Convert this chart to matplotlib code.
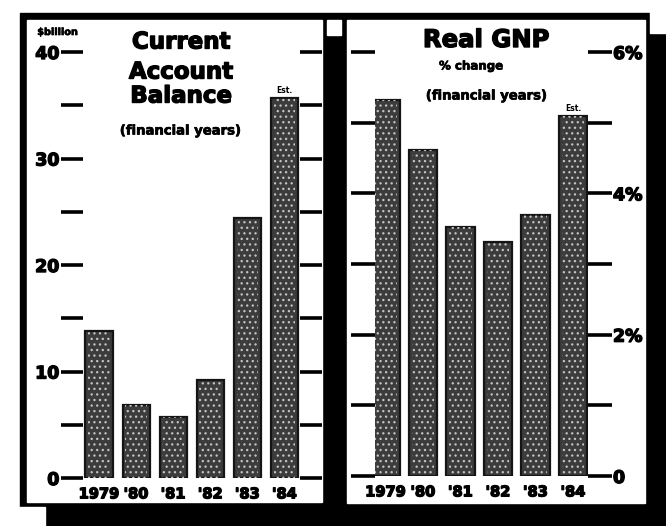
import matplotlib.pyplot as plt
import matplotlib.patheffects as pe
from matplotlib.patches import Rectangle

# Japan, financial years
years = ['1979', "'80", "'81", "'82", "'83", "'84"]
current_account = [13.8, 6.9, 5.7, 9.2, 24.4, 35.7]   # $ billion
real_gnp = [5.32, 4.61, 3.52, 3.31, 3.69, 5.1]       # % change

left_ticks = [0, 5, 10, 15, 20, 25, 30, 35, 40]
left_labels = ['0', '', '10', '', '20', '', '30', '', '40']
right_ticks = [0, 1, 2, 3, 4, 5, 6]
right_labels = ['0', '', '2%', '', '4%', '', '6%']

plt.rcParams['font.family'] = 'DejaVu Sans'
plt.rcParams['font.weight'] = 'bold'
plt.rcParams['hatch.linewidth'] = 0.9

W, H = 666, 526
fig = plt.figure(figsize=(W / 100, H / 100), dpi=100)
fig.patch.set_facecolor('white')

heavy = [pe.withStroke(linewidth=1.0, foreground='black')]
light = [pe.withStroke(linewidth=0.5, foreground='black')]

# background in pixel coords: black scan frame with two white panels
bg = fig.add_axes([0, 0, 1, 1], zorder=0)
bg.set_xlim(0, W)
bg.set_ylim(H, 0)
bg.axis('off')
bg.add_patch(Rectangle((20, 13), 646, 513, color='black'))
bg.add_patch(Rectangle((0, 507), 45, 19, color='white'))
bg.add_patch(Rectangle((650, 0), 16, 33, color='white'))
bg.add_patch(Rectangle((27, 20), 295, 482, color='white'))
bg.add_patch(Rectangle((347, 20), 298, 483, color='white'))
bg.add_patch(Rectangle((327, 20), 14, 15, color='white'))


def px_axes(x0, x1, y0, y1):
    # y0 = bottom pixel (from top), y1 = top pixel
    return fig.add_axes([x0 / W, (H - y0) / H, (x1 - x0) / W, (y0 - y1) / H], zorder=2)


def draw_bars(ax, vals, width):
    x = range(len(vals))
    ax.bar(x, vals, width=width, color='#3c3c3c', edgecolor='#151515', linewidth=1.6, zorder=2)
    ax.bar(x, vals, width=width * 0.8, fill=False, hatch='...', edgecolor='#c4c4c4', linewidth=0, zorder=3)


def style(ax):
    ax.set_facecolor('none')
    for s in ax.spines.values():
        s.set_visible(False)
    ax.tick_params(axis='x', length=0, pad=6, labelsize=10.5)
    ax.tick_params(axis='y', which='both', direction='out', width=2.6, labelsize=12.5, pad=1)


def thicken(ax):
    for lbl in ax.get_xticklabels() + ax.yaxis.get_ticklabels():
        lbl.set_path_effects(heavy)


# left panel: current account balance
ax1 = px_axes(83, 300, 478, 52)
draw_bars(ax1, current_account, 0.73)
ax1.set_xlim(-0.431, 5.418)
ax1.set_ylim(0, 40)
style(ax1)
ax1.set_xticks(range(len(years)), years)
ax1.set_yticks(left_ticks, left_labels)
ax1.tick_params(axis='y', left=True, right=True, length=16, labelleft=True, labelright=False)
ax1.text(5, current_account[5] + 0.3, 'Est.', ha='center', va='bottom', fontsize=5.5)
thicken(ax1)

bg.text(58, 32, '$billion', ha='center', va='center', fontsize=7, path_effects=light)
for label, y in [('Current', 42), ('Account', 72), ('Balance', 96)]:
    bg.text(181, y, label, ha='center', va='center', fontsize=16.5, path_effects=heavy)
bg.text(181, 131, '(financial years)', ha='center', va='center', fontsize=9.5, path_effects=light)

# right panel: real GNP
ax2 = px_axes(375, 588, 476, 52)
draw_bars(ax2, real_gnp, 0.75)
ax2.set_xlim(-0.28, 5.4)
ax2.set_ylim(0, 6)
style(ax2)
ax2.set_xticks(range(len(years)), years)
ax2.set_yticks(right_ticks, right_labels)
ax2.tick_params(axis='y', left=True, right=True, length=17, labelleft=False, labelright=True)
ax2.text(5, real_gnp[5] + 0.04, 'Est.', ha='center', va='bottom', fontsize=5.5)
thicken(ax2)

bg.text(486, 40, 'Real GNP', ha='center', va='center', fontsize=17.5, path_effects=heavy)
bg.text(471, 66, '% change', ha='center', va='center', fontsize=8.5, path_effects=light)
bg.text(487, 96, '(financial years)', ha='center', va='center', fontsize=9.5, path_effects=light)

fig.savefig('out.png', dpi=100)
